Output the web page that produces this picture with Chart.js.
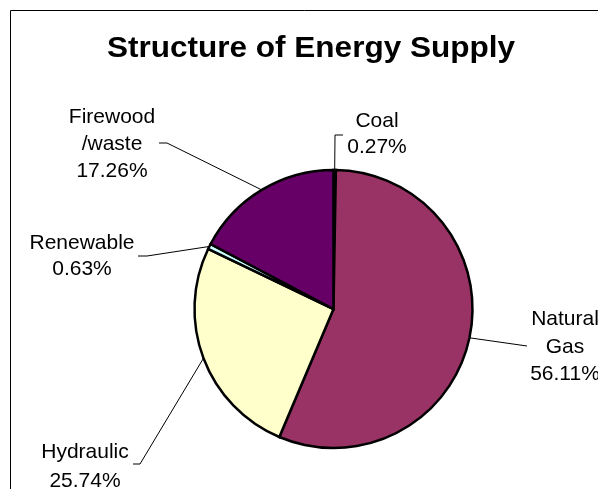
<!DOCTYPE html>
<html>
<head>
<meta charset="utf-8">
<title>Structure of Energy Supply</title>
<script src="https://cdn.jsdelivr.net/npm/chart.js@4/dist/chart.umd.min.js"></script>
<style>
  html, body { margin: 0; padding: 0; background: #ffffff; }
  #wrap { width: 598px; height: 489px; }
  canvas { display: block; }
</style>
</head>
<body>
<div id="wrap"><canvas id="chart" width="598" height="489"></canvas></div>
<script>
// Energy sources, clockwise from 12 o'clock
const categories = ['Coal', 'Natural Gas', 'Hydraulic', 'Renewable', 'Firewood/waste'];
// Share of total supply, in percent
const shares = [0.27, 56.11, 25.74, 0.63, 17.26];
// Label lines shown next to each slice (the value line is appended from shares)
const labelLines = [['Coal'], ['Natural', 'Gas'], ['Hydraulic'], ['Renewable'], ['Firewood', '/waste']];

// Slice fills
const sliceColors = ['#000000', '#993366', '#FFFFCC', '#CCFFFF', '#660066'];

// Where each label block sits: centre x, first baseline y, and leader bend points
const labelLayout = [
  { cx: 377, y: 127, lh: 26,   bends: [[335, 135], [343, 135]] },
  { cx: 565, y: 325, lh: 27.5, bends: [[527, 346]] },
  { cx: 85,  y: 458, lh: 29,   bends: [[140, 464], [133, 464]] },
  { cx: 82,  y: 249, lh: 26,   bends: [[147, 256], [138, 256]] },
  { cx: 112, y: 123, lh: 27,   bends: [[167, 143], [159, 143]] }
];

const FONT = '"Liberation Sans", Arial, Helvetica, sans-serif';

// Frame, title, and leader-line labels drawn around the pie
const decorations = {
  id: 'decorations',
  beforeDraw(chart) {
    const ctx = chart.ctx;
    ctx.save();
    ctx.fillStyle = '#ffffff';
    ctx.fillRect(0, 0, chart.width, chart.height);
    ctx.strokeStyle = '#000000';
    ctx.lineWidth = 1;
    ctx.beginPath();
    ctx.moveTo(10.5, chart.height);
    ctx.lineTo(10.5, 10.5);
    ctx.lineTo(chart.width, 10.5);
    ctx.stroke();

    // Title, stretched slightly to its printed width
    ctx.fillStyle = '#000000';
    ctx.font = 'bold 29px ' + FONT;
    ctx.textAlign = 'center';
    ctx.textBaseline = 'alphabetic';
    const title = 'Structure of Energy Supply';
    const w = ctx.measureText(title).width;
    const sx = 408 / w;
    ctx.translate(311, 57);
    ctx.scale(sx, 1);
    ctx.fillText(title, 0, 0);
    ctx.restore();
  },
  afterDatasetsDraw(chart) {
    const ctx = chart.ctx;
    const arcs = chart.getDatasetMeta(0).data;
    ctx.save();
    ctx.strokeStyle = '#000000';
    ctx.lineWidth = 1;
    ctx.fillStyle = '#000000';
    ctx.font = '21px ' + FONT;
    ctx.textAlign = 'center';
    ctx.textBaseline = 'alphabetic';
    arcs.forEach((arc, i) => {
      const p = arc.getProps(['x', 'y', 'startAngle', 'endAngle', 'outerRadius'], true);
      const mid = (p.startAngle + p.endAngle) / 2;
      const ax = p.x + Math.cos(mid) * p.outerRadius;
      const ay = p.y + Math.sin(mid) * p.outerRadius;
      const lay = labelLayout[i];
      ctx.beginPath();
      ctx.moveTo(ax, ay);
      lay.bends.forEach(b => ctx.lineTo(b[0], b[1]));
      ctx.stroke();
      const lines = labelLines[i].concat([shares[i].toFixed(2) + '%']);
      lines.forEach((t, k) => ctx.fillText(t, lay.cx, lay.y + k * lay.lh));
    });
    ctx.restore();
  }
};

new Chart(document.getElementById('chart'), {
  type: 'pie',
  data: {
    labels: categories,
    datasets: [{
      data: shares,
      backgroundColor: sliceColors,
      borderColor: '#000000',
      borderWidth: 2.5,
      borderJoinStyle: 'miter'
    }]
  },
  options: {
    responsive: false,
    animation: false,
    devicePixelRatio: 1,
    radius: 139,
    rotation: 0,
    layout: { padding: { left: 69, right: 0, top: 129, bottom: 0 } },
    plugins: {
      legend: { display: false },
      title: { display: false },
      tooltip: { enabled: false }
    }
  },
  plugins: [decorations]
});
</script>
</body>
</html>
